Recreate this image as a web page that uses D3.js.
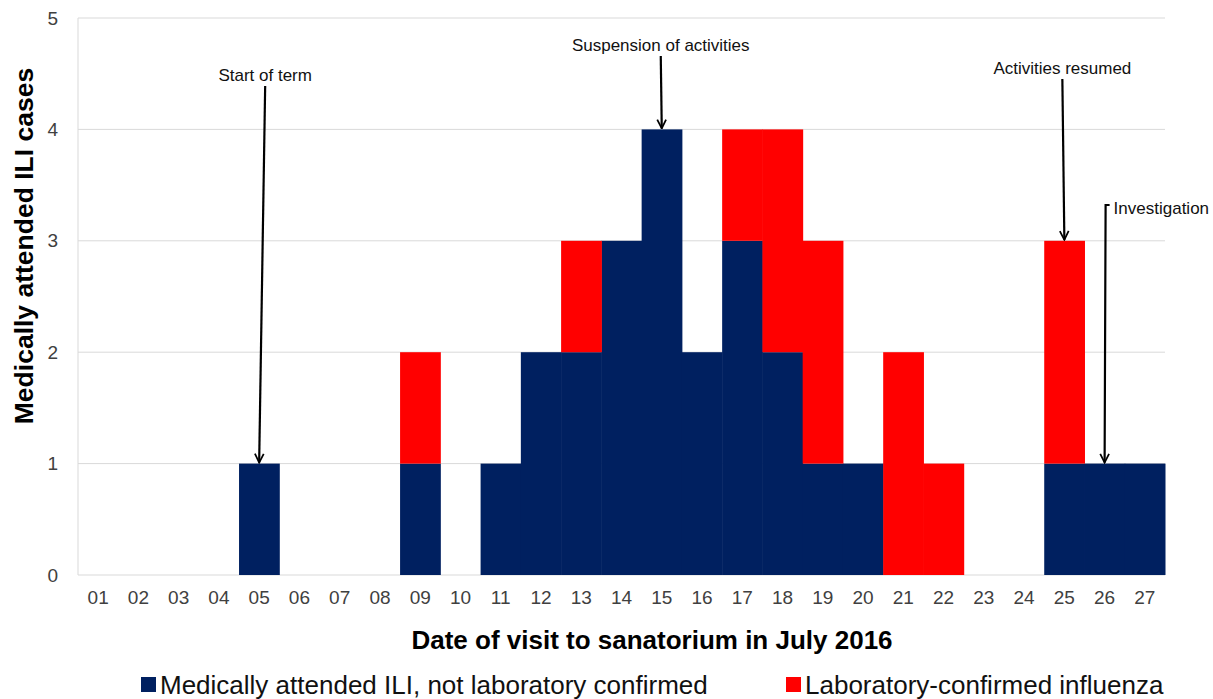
<!DOCTYPE html>
<html>
<head>
    <meta charset="utf-8">
    <title>ILI cases by date of visit</title>
    <script type="text/javascript" src="https://cdn.jsdelivr.net/npm/d3@7"></script>
    <style type="text/css">
        body { margin: 0; background: #fff; }
        svg { font-family: "Liberation Sans", Arial, sans-serif; }
        .grid line { stroke: #d9d9d9; stroke-width: 1; }
        .tick text { fill: #404040; font-size: 19px; }
        .note { font-size: 17px; fill: #111; }
    </style>
</head>
<body>
<svg></svg>
<script type="text/javascript">
    var dates = ["01","02","03","04","05","06","07","08","09","10","11","12","13","14",
                 "15","16","17","18","19","20","21","22","23","24","25","26","27"];
    var notConfirmed = [0,0,0,0,1,0,0,0,1,0,1,2,2,3,4,2,3,2,1,1,0,0,0,0,1,1,1];
    var labConfirmed = [0,0,0,0,0,0,0,0,1,0,0,0,1,0,0,0,1,2,2,0,2,1,0,0,2,0,0];
    var yTicks = [0, 1, 2, 3, 4, 5];
    var seriesNames = ["Medically attended ILI, not laboratory confirmed", "Laboratory-confirmed influenza"];
    var seriesColors = ["#002060", "#ff0000"];

    // annotations: arrow pointing at top of a date's bar
    var notes = [
        {date: "05", label: "Start of term", textY: 75, topDx: 6, bracket: false},
        {date: "15", label: "Suspension of activities", textY: 45, topDx: -1, bracket: false},
        {date: "25", label: "Activities resumed", textY: 68, topDx: -2, bracket: false},
        {date: "26", label: "Investigation", textY: 208, topDx: 1, bracket: true}
    ];

    var w = 1213, h = 699;
    var margin = {top: 18, right: 48, bottom: 124, left: 78};
    var iw = w - margin.left - margin.right, ih = h - margin.top - margin.bottom;

    var svg = d3.select("svg").attr("width", w).attr("height", h);

    svg.append("defs").append("marker")
        .attr("id", "arrow")
        .attr("viewBox", "0 0 10 10")
        .attr("refX", 9).attr("refY", 5)
        .attr("markerWidth", 5).attr("markerHeight", 5)
        .attr("markerUnits", "strokeWidth")
        .attr("orient", "auto")
      .append("path")
        .attr("d", "M1,1 L9,5 L1,9")
        .attr("fill", "none")
        .attr("stroke", "#000")
        .attr("stroke-width", 1.6);

    var g = svg.append("g").attr("transform", "translate(" + margin.left + "," + margin.top + ")");

    var x = d3.scaleBand().domain(dates).range([0, iw]).padding(0);
    var y = d3.scaleLinear().domain([0, 5]).range([ih, 0]);

    // gridlines
    g.append("g").attr("class", "grid")
        .selectAll("line").data(yTicks).enter().append("line")
        .attr("x1", 0).attr("x2", iw)
        .attr("y1", function(d){return y(d);}).attr("y2", function(d){return y(d);});
    g.append("line")
        .attr("x1", 0).attr("x2", 0).attr("y1", 0).attr("y2", ih)
        .attr("stroke", "#d9d9d9");

    var rows = dates.map(function(d, i){
        return {date: d, a: notConfirmed[i], b: labConfirmed[i]};
    });
    var stacked = d3.stack().keys(["a", "b"])(rows);

    g.selectAll("g.series").data(stacked).enter().append("g")
        .attr("class", "series")
        .attr("fill", function(d, i){return seriesColors[i];})
      .selectAll("rect").data(function(d){return d;}).enter().append("rect")
        .attr("x", function(d){return x(d.data.date);})
        .attr("width", x.bandwidth() + 0.5)
        .attr("y", function(d){return y(d[1]);})
        .attr("height", function(d){return y(d[0]) - y(d[1]);});

    // axes
    var xAxis = g.append("g").attr("transform", "translate(0," + ih + ")")
        .call(d3.axisBottom(x).tickSize(0).tickPadding(16));
    xAxis.select(".domain").remove();

    var yAxis = g.append("g")
        .call(d3.axisLeft(y).tickValues(yTicks).tickFormat(d3.format("d")).tickSize(0).tickPadding(20));
    yAxis.select(".domain").remove();

    svg.append("text")
        .attr("transform", "translate(33,246) rotate(-90)")
        .attr("text-anchor", "middle")
        .attr("font-size", "26.5px").attr("font-weight", "bold").attr("fill", "#000")
        .text("Medically attended ILI cases");

    svg.append("text")
        .attr("x", 652).attr("y", 649)
        .attr("text-anchor", "middle")
        .attr("font-size", "26px").attr("font-weight", "bold").attr("fill", "#000")
        .text("Date of visit to sanatorium in July 2016");

    // legend
    var legX = [141, 786];
    var leg = svg.selectAll("g.leg").data(seriesNames).enter().append("g")
        .attr("class", "leg")
        .attr("transform", function(d, i){return "translate(" + legX[i] + ",684)";});
    leg.append("rect").attr("x", 0).attr("y", -7).attr("width", 15).attr("height", 15)
        .attr("fill", function(d, i){return seriesColors[i];});
    leg.append("text").attr("x", 19).attr("y", 10)
        .attr("font-size", "26px").attr("fill", "#111")
        .text(function(d){return d;});

    // annotations
    var totals = {};
    rows.forEach(function(r){ totals[r.date] = r.a + r.b; });

    notes.forEach(function(n){
        var cx = x(n.date) + x.bandwidth() / 2;
        var tipY = y(totals[n.date]) - 1;
        var topY = n.textY + 11;
        if (n.bracket) {
            topY = n.textY - 3;
            g.append("path")
                .attr("d", "M" + (cx + n.topDx + 4) + "," + (topY - margin.top) +
                           " L" + (cx + n.topDx) + "," + (topY - margin.top) +
                           " L" + cx + "," + tipY)
                .attr("fill", "none").attr("stroke", "#000").attr("stroke-width", 2.2)
                .attr("marker-end", "url(#arrow)");
            g.append("text").attr("class", "note")
                .attr("x", cx + n.topDx + 8).attr("y", n.textY - margin.top + 6)
                .text(n.label);
        } else {
            g.append("line")
                .attr("x1", cx + n.topDx).attr("y1", topY - margin.top)
                .attr("x2", cx).attr("y2", tipY)
                .attr("stroke", "#000").attr("stroke-width", 2.2)
                .attr("marker-end", "url(#arrow)");
            g.append("text").attr("class", "note")
                .attr("x", cx + n.topDx).attr("y", n.textY - margin.top + 6)
                .attr("text-anchor", "middle")
                .text(n.label);
        }
    });
</script>
</body>
</html>
